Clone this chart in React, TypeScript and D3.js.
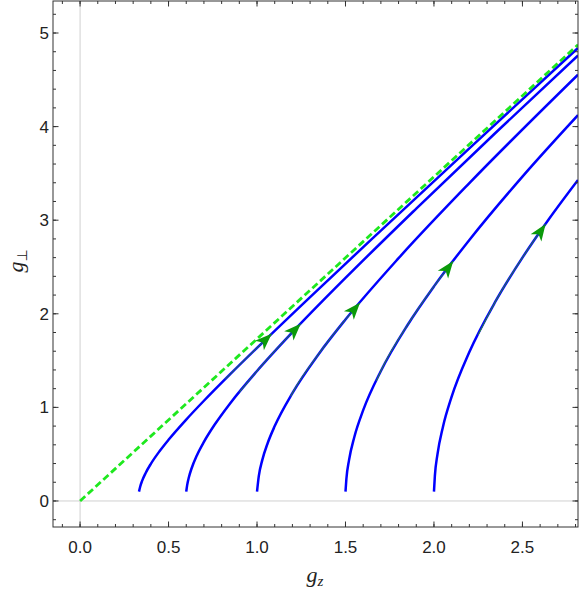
import React from "react";
import * as d3 from "d3";

// ---- data ----
const curve1Gz = [0.333, 0.34, 0.35, 0.37, 0.4, 0.45, 0.5, 0.6, 0.7, 0.85, 1.0, 1.3, 1.7, 2.2, 2.814];
const curve1Gp = [0.1, 0.155, 0.212, 0.297, 0.397, 0.534, 0.654, 0.87, 1.071, 1.358, 1.636, 2.179, 2.889, 3.768, 4.84];
const curve2Gz = [0.6, 0.605, 0.615, 0.63, 0.66, 0.7, 0.76, 0.85, 1.0, 1.2, 1.5, 1.9, 2.35, 2.814];
const curve2Gp = [0.1, 0.167, 0.254, 0.347, 0.487, 0.632, 0.814, 1.048, 1.389, 1.803, 2.383, 3.124, 3.937, 4.76];
const curve3Gz = [1.0, 1.01, 1.03, 1.06, 1.1, 1.2, 1.35, 1.5, 1.8, 2.2, 2.814];
const curve3Gp = [0.1, 0.265, 0.439, 0.617, 0.8, 1.153, 1.574, 1.939, 2.594, 3.396, 4.555];
const curve4Gz = [1.5, 1.505, 1.52, 1.55, 1.6, 1.7, 1.85, 2.0, 2.2, 2.5, 2.814];
const curve4Gp = [0.1, 0.235, 0.437, 0.684, 0.97, 1.389, 1.878, 2.293, 2.789, 3.466, 4.123];
const curve5Gz = [2.0, 2.005, 2.02, 2.05, 2.1, 2.2, 2.35, 2.5, 2.65, 2.814];
const curve5Gp = [0.1, 0.265, 0.501, 0.786, 1.114, 1.591, 2.14, 2.6, 3.013, 3.43];

const separatrixGz = [0, 2.814];
const separatrixGp = [0, 4.874];

// streamline arrow segments: start of the thin green trace and arrow tip (g_z)
const streamStartGz = [0.82, 0.9, 1.19, 1.675, 2.25];
const arrowTipGz = [1.083, 1.247, 1.582, 2.109, 2.631];

const xTickValues = [0, 0.5, 1.0, 1.5, 2.0, 2.5];
const xTickLabels = ["0.0", "0.5", "1.0", "1.5", "2.0", "2.5"];
const yTickValues = [0, 1, 2, 3, 4, 5];
const yTickLabels = ["0", "1", "2", "3", "4", "5"];

const W = 581;
const H = 593;
const FL = 53, FR = 578, FT = 1, FB = 527;

const x = d3.scaleLinear().domain([-0.153, 2.814]).range([FL, FR]);
const y = d3.scaleLinear().domain([-0.278, 5.342]).range([FB, FT]);

const curves = [
  [curve1Gz, curve1Gp],
  [curve2Gz, curve2Gp],
  [curve3Gz, curve3Gp],
  [curve4Gz, curve4Gp],
  [curve5Gz, curve5Gp],
];

function interp(gz: number[], gp: number[], v: number) {
  for (let i = 0; i < gz.length - 1; i++) {
    if (v >= gz[i] && v <= gz[i + 1]) {
      const t = (v - gz[i]) / (gz[i + 1] - gz[i]);
      return gp[i] + t * (gp[i + 1] - gp[i]);
    }
  }
  return gp[gp.length - 1];
}

const line = d3
  .line<[number, number]>()
  .x((d) => x(d[0]))
  .y((d) => y(d[1]))
  .curve(d3.curveMonotoneX);

export default function App() {
  const xMinor = d3.range(-0.1, 2.81, 0.1).map((v) => Math.round(v * 10) / 10);
  const yMinor = d3.range(-0.2, 5.31, 0.2).map((v) => Math.round(v * 10) / 10);
  const tickColor = "#333";
  const labelFont = "'Liberation Sans', Arial, sans-serif";

  return (
    <svg
      width={W}
      height={H}
      style={{ position: "absolute", left: 0, top: 0, background: "#fff" }}
    >
      <defs>
        <clipPath id="plotclip">
          <rect x={FL} y={FT} width={FR - FL} height={FB - FT} />
        </clipPath>
      </defs>
      {/* zero grid lines */}
      <line x1={x(0)} x2={x(0)} y1={FT} y2={FB} stroke="#d0d0d0" strokeWidth={1} />
      <line x1={FL} x2={FR} y1={y(0)} y2={y(0)} stroke="#d0d0d0" strokeWidth={1} />

      <g clipPath="url(#plotclip)">
        {curves.map(([gz, gp], i) => (
          <path
            key={"c" + i}
            d={line(gz.map((v, j) => [v, gp[j]]) as [number, number][]) || ""}
            fill="none"
            stroke="#0000ff"
            strokeWidth={2.5}
          />
        ))}
        {curves.map(([gz, gp], i) => {
          const a = streamStartGz[i];
          const b = arrowTipGz[i];
          const pts: [number, number][] = [[a, interp(gz, gp, a)]];
          gz.forEach((v, j) => {
            if (v > a && v < b) pts.push([v, gp[j]]);
          });
          pts.push([b, interp(gz, gp, b)]);
          const tipX = x(b);
          const tipY = y(interp(gz, gp, b));
          const bx = x(b - 0.02);
          const by = y(interp(gz, gp, b - 0.02));
          const ang = (Math.atan2(tipY - by, tipX - bx) * 180) / Math.PI;
          return (
            <g key={"s" + i}>
              <path d={line(pts) || ""} fill="none" stroke="#2f8f2f" strokeWidth={1} />
              <path
                d="M0,0 L-17,-6.5 L-12.5,0 L-17,6.5 Z"
                fill="#0a9a0a"
                transform={`translate(${tipX},${tipY}) rotate(${ang})`}
              />
            </g>
          );
        })}
        <path
          d={line(separatrixGz.map((v, j) => [v, separatrixGp[j]]) as [number, number][]) || ""}
          fill="none"
          stroke="#1ee81e"
          strokeWidth={2.8}
          strokeDasharray="7,3.5"
        />
      </g>

      {/* frame */}
      <rect x={FL} y={FT} width={FR - FL} height={FB - FT} fill="none" stroke={tickColor} strokeWidth={1} />

      {/* minor ticks */}
      {xMinor.map((v, i) => (
        <g key={"xm" + i}>
          <line x1={x(v)} x2={x(v)} y1={FB} y2={FB - 3} stroke={tickColor} />
          <line x1={x(v)} x2={x(v)} y1={FT} y2={FT + 3} stroke={tickColor} />
        </g>
      ))}
      {yMinor.map((v, i) => (
        <g key={"ym" + i}>
          <line x1={FL} x2={FL + 3} y1={y(v)} y2={y(v)} stroke={tickColor} />
          <line x1={FR} x2={FR - 3} y1={y(v)} y2={y(v)} stroke={tickColor} />
        </g>
      ))}
      {/* major ticks + labels */}
      {xTickValues.map((v, i) => (
        <g key={"xt" + i}>
          <line x1={x(v)} x2={x(v)} y1={FB} y2={FB - 5.5} stroke={tickColor} />
          <line x1={x(v)} x2={x(v)} y1={FT} y2={FT + 5.5} stroke={tickColor} />
          <text
            x={x(v)}
            y={553}
            textAnchor="middle"
            fontFamily={labelFont}
            fontSize={17}
            fill="#222"
          >
            {xTickLabels[i]}
          </text>
        </g>
      ))}
      {yTickValues.map((v, i) => (
        <g key={"yt" + i}>
          <line x1={FL} x2={FL + 5.5} y1={y(v)} y2={y(v)} stroke={tickColor} />
          <line x1={FR} x2={FR - 5.5} y1={y(v)} y2={y(v)} stroke={tickColor} />
          <text
            x={49}
            y={y(v) + 6}
            textAnchor="end"
            fontFamily={labelFont}
            fontSize={17}
            fill="#222"
          >
            {yTickLabels[i]}
          </text>
        </g>
      ))}

      {/* axis labels */}
      <text
        x={315}
        y={582}
        textAnchor="middle"
        fontFamily="'Liberation Serif', 'Times New Roman', serif"
        fontStyle="italic"
        fontSize={22}
        fill="#222"
      >
        g
        <tspan fontSize={15} dy={4}>
          z
        </tspan>
      </text>
      <text
        transform="translate(23,261) rotate(-90)"
        textAnchor="middle"
        fontFamily="'Liberation Serif', 'Times New Roman', serif"
        fontStyle="italic"
        fontSize={22}
        fill="#222"
      >
        g
        <tspan fontSize={14} dy={4} fontStyle="normal" fontFamily="'DejaVu Sans', sans-serif">
          ⊥
        </tspan>
      </text>
    </svg>
  );
}
